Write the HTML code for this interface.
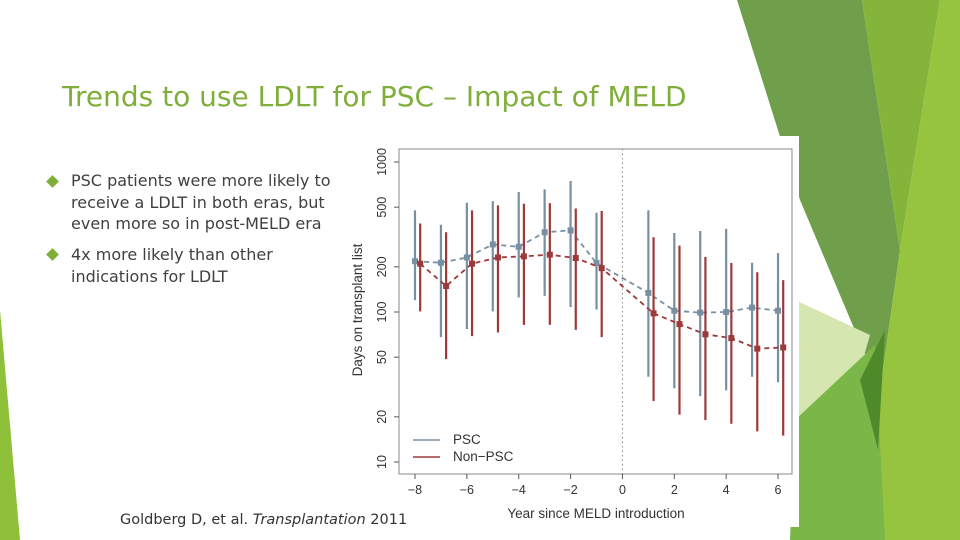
<!DOCTYPE html>
<html><head><meta charset="utf-8"><style>
body{margin:0;width:960px;height:540px;overflow:hidden;background:#fff;font-family:"DejaVu Sans","Liberation Sans",sans-serif;position:relative}
#title{position:absolute;left:62px;top:80px;font-size:28px;color:#7faf3a;white-space:nowrap}
.bul{position:absolute;left:71px;font-size:16px;line-height:21.5px;color:#404040;white-space:nowrap}
.dia{position:absolute;left:48px;width:9px;height:9px;background:#7faf3a;transform:rotate(45deg)}
#cite{position:absolute;left:120px;top:512px;font-size:14.5px;color:#333;white-space:nowrap}
</style></head><body>
<svg width="960" height="540" style="position:absolute;left:0;top:0">
<polygon points="737,0 862,0 900,250 880,390 800,200" fill="#6f9f4a"/>
<polygon points="862,0 940,0 900,250" fill="#85b43a"/>
<polygon points="940,0 960,0 960,540 865,540 880,390 900,250" fill="#97c43e"/>
<polygon points="795,300 870,335 860,370 795,420" fill="#d5e6b0"/>
<polygon points="795,420 875,345 885,540 790,540" fill="#7ab648"/>
<polygon points="860,380 885,330 878,450" fill="#4f8a2a"/>
<polygon points="0,310 20,540 0,540" fill="#8fc03a"/>
</svg>
<div id="title">Trends to use LDLT for PSC – Impact of MELD</div>
<div class="dia" style="top:177px"></div>
<div class="bul" style="top:170px">PSC patients were more likely to<br>receive a LDLT in both eras, but<br>even more so in post-MELD era</div>
<div class="dia" style="top:250px"></div>
<div class="bul" style="top:244px">4x more likely than other<br>indications for LDLT</div>
<svg id="chart" width="960" height="540" style="position:absolute;left:0;top:0;font-family:'Liberation Sans',sans-serif"></svg>
<div id="cite">Goldberg D, et al. <i>Transplantation</i> 2011</div>
<script>
const years=[-8,-7,-6,-5,-4,-3,-2,-1,1,2,3,4,5,6];
const pscMed=[218,213,231,282,272,340,350,212,134,102,99,100,107,102];
const pscLo=[120,68,77,101,125,128,108,104,37,31,27.5,30,37,34];
const pscHi=[476,382,535,549,631,657,747,459,476,336,347,358,213,247];
const nonMed=[210,149,210,231,235,241,229,196,98,83,71,67,57,58];
const nonLo=[101,48.5,69,73,82,82,76,68,25.5,20.7,19,18,16,15];
const nonHi=[389,340,476,514,527,532,490,471,315,277,233,212,184,163];
const yTicks=[10,20,50,100,200,500,1000];
const xTicks=[-8,-6,-4,-2,0,2,4,6];
const NS="http://www.w3.org/2000/svg",svg=document.getElementById('chart');
const X=v=>415+(v+8)*25.93, Y=v=>162+(3-Math.log10(v))*150;
function mk(t,a,txt){const e=document.createElementNS(NS,t);for(const k in a)e.setAttribute(k,a[k]);if(txt!=null)e.textContent=txt;svg.appendChild(e);return e;}
let e=mk('rect',{x:356,y:136,width:443,height:391,fill:'#fff'});

e=mk('rect',{x:399,y:149,width:393,height:325,fill:'none',stroke:'#888','stroke-width':1});

e=mk('line',{x1:X(0),x2:X(0),y1:149,y2:474,stroke:'#888','stroke-dasharray':'1.5,3'});

yTicks.forEach(t=>{mk('line',{x1:394,x2:399,y1:Y(t),y2:Y(t),stroke:'#555'});
 e=mk('text',{x:386,y:Y(t),'font-size':12.5,fill:'#333','text-anchor':'middle',transform:`rotate(-90 386 ${Y(t)})`},t);
 });
xTicks.forEach(t=>{mk('line',{x1:X(t),x2:X(t),y1:474,y2:479,stroke:'#555'});
 e=mk('text',{x:X(t),y:494,'font-size':12.5,fill:'#333','text-anchor':'middle'},t===0?'0':String(t).replace('-','−'));
 });
e=mk('text',{x:596,y:518,'font-size':13.5,fill:'#333','text-anchor':'middle'},'Year since MELD introduction');

e=mk('text',{x:362,y:310,'font-size':13.5,fill:'#333','text-anchor':'middle',transform:'rotate(-90 362 310)'},'Days on transplant list');

function series(med,lo,hi,off,col,name){
 years.forEach((yr,i)=>{e=mk('line',{x1:X(yr+off),x2:X(yr+off),y1:Y(lo[i]),y2:Y(hi[i]),stroke:col,'stroke-width':2.2});
  });
 e=mk('polyline',{points:years.map((yr,i)=>X(yr+off)+','+Y(med[i])).join(' '),fill:'none',stroke:col,'stroke-width':1.8,'stroke-dasharray':'5,4'});
 
 years.forEach((yr,i)=>{e=mk('rect',{x:X(yr+off)-3,y:Y(med[i])-3,width:6,height:6,fill:col});
  });
}
series(pscMed,pscLo,pscHi,0,'#7890a3','psc');
series(nonMed,nonLo,nonHi,0.2,'#9c3a3a','non-psc');
e=mk('line',{x1:413,x2:440,y1:440,y2:440,stroke:'#7890a3','stroke-width':1.5});

e=mk('text',{x:453,y:444,'font-size':13.5,fill:'#333'},'PSC');

e=mk('line',{x1:413,x2:440,y1:457,y2:457,stroke:'#9c3a3a','stroke-width':1.5});

e=mk('text',{x:453,y:461,'font-size':13.5,fill:'#333'},'Non−PSC');

</script>
</body></html>
